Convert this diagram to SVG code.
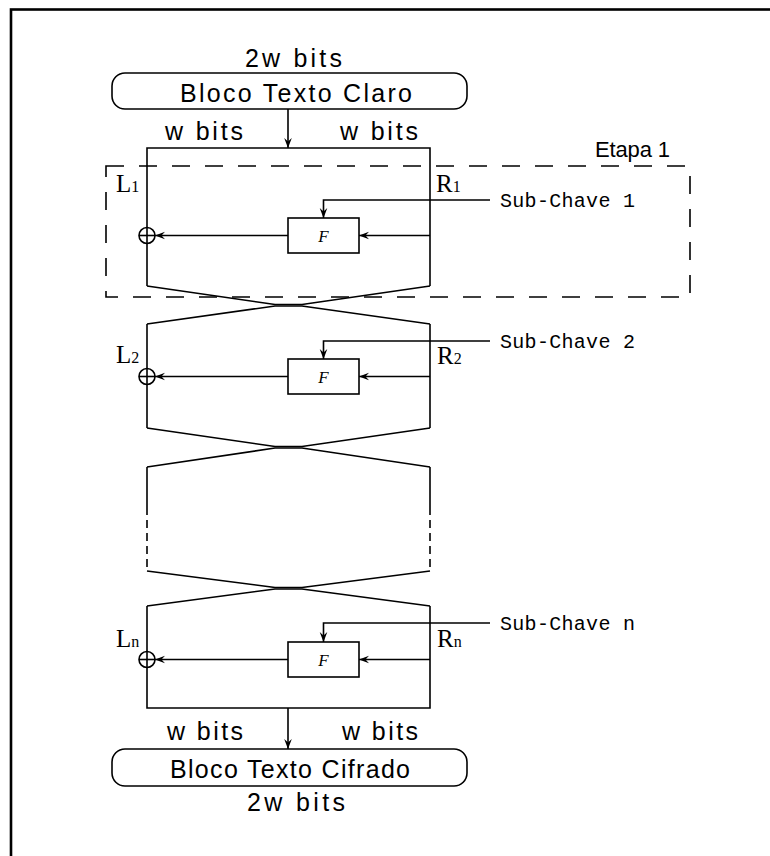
<svg xmlns="http://www.w3.org/2000/svg" width="770" height="856" viewBox="0 0 770 856">
<defs>
<marker id="arr" markerUnits="userSpaceOnUse" markerWidth="12" markerHeight="10" viewBox="0 0 12 10" refX="11" refY="5" orient="auto"><path d="M1,1.2 L11,5 L1,8.8 L4.5,5 z" fill="#000"/></marker>
<style>
.ln{fill:none;stroke:#000;stroke-width:1.6}
.dl{fill:none;stroke:#000;stroke-width:1.6;stroke-dasharray:8 5}
.etapa{fill:none;stroke:#000;stroke-width:1.6;stroke-dasharray:18 15}
.box{fill:#fff;stroke:#000;stroke-width:1.6}
.sans{font-family:"Liberation Sans",Arial,sans-serif;font-size:25px;fill:#000}
.mono{font-family:"Liberation Mono","Courier New",monospace;font-size:20px;fill:#000;letter-spacing:0.3px}
.serif{font-family:"Liberation Serif","Times New Roman",serif;font-size:25px;fill:#000}
.sub{font-size:16px}
.fi{font-family:"Liberation Serif","Times New Roman",serif;font-style:italic;font-size:17px;fill:#000;text-anchor:middle}
</style>
</defs>
<rect width="770" height="856" fill="#fff"/>
<rect id="frame" x="11" y="9.5" width="800" height="900" fill="none" stroke="#000" stroke-width="2.6"/>

<g id="connectors">
  <line class="ln" x1="288" y1="109" x2="288" y2="148" marker-end="url(#arr)"/>
  <path class="ln" d="M147,286 L147,148 L430,148 L430,286"/>
  <path class="ln" d="M147,286 L275,304.5 L302,304.5 L430,286"/>
  <path class="ln" d="M147,324 L275,306 L302,306 L430,324"/>
  <path class="ln" d="M147,324 V428 M430,324 V428"/>
  <path class="ln" d="M147,428 L275,446.5 L302,446.5 L430,428"/>
  <path class="ln" d="M147,467 L275,448 L302,448 L430,467"/>
  <path class="ln" d="M147,467 V507 M430,467 V507"/>
  <path class="dl" d="M147,507 V571 M430,507 V571"/>
  <path class="ln" d="M147,571 L275,587.5 L302,587.5 L430,571"/>
  <path class="ln" d="M147,606 L275,589 L302,589 L430,606"/>
  <path class="ln" d="M147,606 L147,708 L430,708 L430,606"/>
  <line class="ln" x1="288" y1="708" x2="288" y2="749" marker-end="url(#arr)"/>

  <path class="ln" d="M490,200 H323.5 V218" marker-end="url(#arr)"/>
  <path class="ln" d="M430,235.5 H359" marker-end="url(#arr)"/>
  <path class="ln" d="M288,235.5 H155" marker-end="url(#arr)"/>

  <path class="ln" d="M490,341 H323.5 V359" marker-end="url(#arr)"/>
  <path class="ln" d="M430,376.5 H359" marker-end="url(#arr)"/>
  <path class="ln" d="M288,376.5 H155" marker-end="url(#arr)"/>

  <path class="ln" d="M490,623 H323.5 V642" marker-end="url(#arr)"/>
  <path class="ln" d="M430,659.5 H359" marker-end="url(#arr)"/>
  <path class="ln" d="M288,659.5 H155" marker-end="url(#arr)"/>
</g>

<g id="input">
  <text class="sans" x="245" y="67" textLength="97">2w bits</text>
  <rect class="box" x="112" y="73" width="355" height="36" rx="13"/>
  <text class="sans" x="180" y="102" textLength="232">Bloco Texto Claro</text>
  <text class="sans" x="165" y="140" textLength="78">w bits</text>
  <text class="sans" x="340" y="140" textLength="78">w bits</text>
</g>

<g id="etapa1">
  <rect class="etapa" x="106" y="166" width="584" height="131"/>
  <text class="sans" x="595" y="157" style="font-size:22px" textLength="75">Etapa 1</text>
</g>

<g id="round1">
  <rect class="box" x="288" y="218" width="71" height="35"/>
  <text class="fi" x="323.5" y="241.5">F</text>
  <circle class="ln" cx="147" cy="235.5" r="8"/>
  <line class="ln" x1="139" y1="235.5" x2="155" y2="235.5"/>
  <text class="serif" x="116" y="192">L<tspan class="sub">1</tspan></text>
  <text class="serif" x="436" y="192">R<tspan class="sub">1</tspan></text>
  <text class="mono" x="500" y="206.5">Sub-Chave 1</text>
</g>

<g id="round2">
  <rect class="box" x="288" y="359" width="71" height="35"/>
  <text class="fi" x="323.5" y="382.5">F</text>
  <circle class="ln" cx="147" cy="376.5" r="8"/>
  <line class="ln" x1="139" y1="376.5" x2="155" y2="376.5"/>
  <text class="serif" x="116" y="363">L<tspan class="sub">2</tspan></text>
  <text class="serif" x="437" y="364">R<tspan class="sub">2</tspan></text>
  <text class="mono" x="500" y="347.5">Sub-Chave 2</text>
</g>

<g id="roundn">
  <rect class="box" x="288" y="642" width="71" height="35"/>
  <text class="fi" x="323.5" y="665.5">F</text>
  <circle class="ln" cx="147" cy="659.5" r="8"/>
  <line class="ln" x1="139" y1="659.5" x2="155" y2="659.5"/>
  <text class="serif" x="116" y="647">L<tspan class="sub">n</tspan></text>
  <text class="serif" x="437" y="647">R<tspan class="sub">n</tspan></text>
  <text class="mono" x="500" y="629.5">Sub-Chave n</text>
</g>

<g id="output">
  <text class="sans" x="167" y="740" textLength="76">w bits</text>
  <text class="sans" x="342" y="740" textLength="76">w bits</text>
  <rect class="box" x="112" y="749" width="355" height="37" rx="13"/>
  <text class="sans" x="170" y="778" textLength="240">Bloco Texto Cifrado</text>
  <text class="sans" x="247" y="811" textLength="98">2w bits</text>
</g>
</svg>
